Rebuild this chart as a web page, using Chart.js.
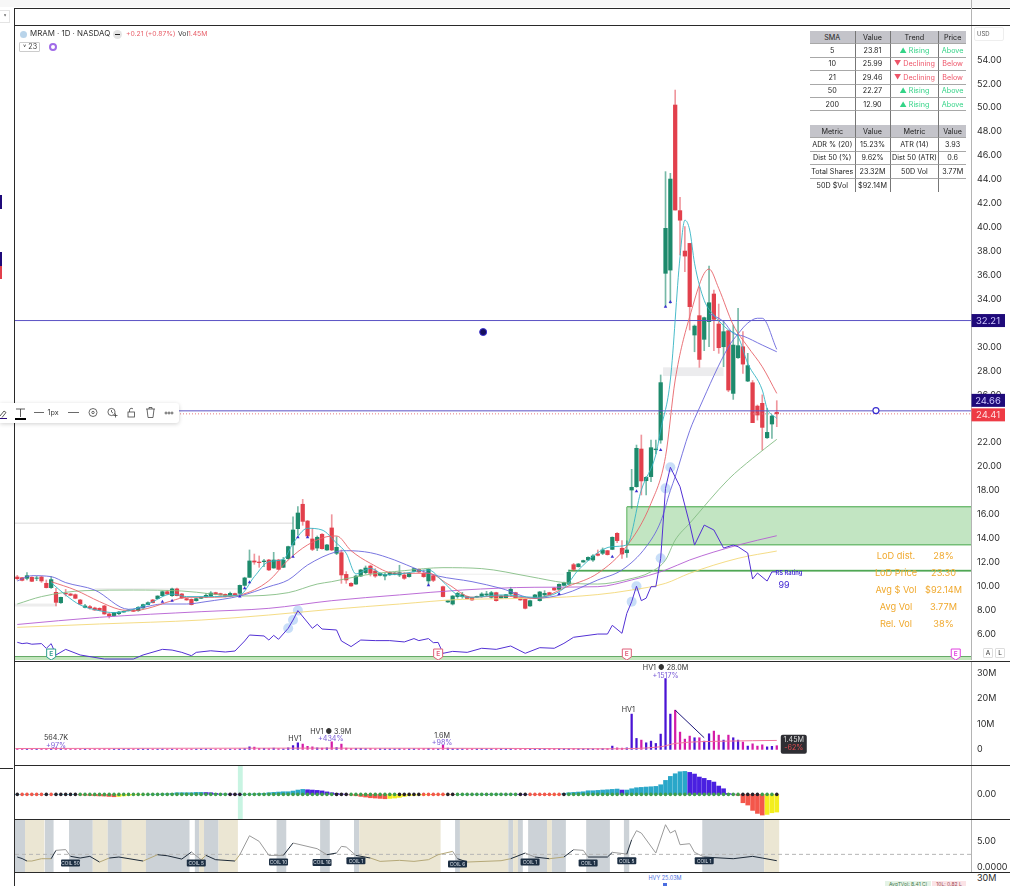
<!DOCTYPE html>
<html>
<head>
<meta charset="utf-8">
<title>MRAM 1D</title>
<script src="https://cdn.jsdelivr.net/npm/chart.js@4"></script>
<style>
  html, body { margin: 0; padding: 0; background: #fff; }
  body { width: 1010px; height: 886px; position: relative; overflow: hidden; font-family: Inter, "Liberation Sans", sans-serif; color: #222; }
  canvas { position: absolute; left: 15px; }
  .txt { position: absolute; white-space: nowrap; line-height: 1; }
  .cell { position: absolute; display: flex; align-items: center; justify-content: center; font-size: 7.2px; box-sizing: border-box; white-space: nowrap; }
</style>
</head>
<body>
<canvas id="priceChart" width="995" height="635" style="top:25px"></canvas>
<canvas id="volChart" width="995" height="104" style="top:661px"></canvas>
<canvas id="oscChart" width="995" height="53" style="top:766px"></canvas>
<canvas id="atrChart" width="995" height="53" style="top:819px"></canvas>
<div id="overlay"></div>

<script>
// ---- candles, bar 0 is the oldest, bar 87 has no visible candle
var opens = [10.77,10.71,10.66,10.74,10.66,10.77,10.24,9.88,9.49,8.62,
  9.4,9.35,9.29,8.85,8.23,8.29,8.18,8.15,8.35,7.68,
  7.54,7.7,7.84,7.95,8.01,7.95,8.18,8.46,8.85,8.96,
  9.21,9.54,9.21,9.77,9.35,8.96,8.9,8.79,8.99,9.1,
  9.18,9.46,9.38,9.32,9.18,9.38,9.4,10.07,10.74,12.11,
  12.02,12.05,12.19,11.52,12.19,11.58,12.3,13.45,14.81,16.85,
  15.45,13.95,13.19,14.34,13.03,14.87,12.75,12.8,10.99,10.24,
  10.18,10.85,11.13,11.69,11.27,10.91,10.85,10.97,10.99,10.94,
  10.94,10.8,11.24,11.41,11.08,10.44,10.88,null,9.96,8.68,
  8.51,9.13,9.13,9.13,9.07,9.1,9.13,9.27,9.07,9.46,
  9.01,9.04,9.35,9.46,8.96,8.9,8.35,8.99,8.79,9.27,
  9.46,9.85,9.74,10.07,10.18,11.8,11.63,12.02,12.19,12.19,
  12.69,12.75,12.97,13.08,14.42,13.17,12.8,18.04,18.32,21.47,
  18.82,19.16,21.41,22.22,36.16,36.43,50.23,41.4,38.02,38.66,
  31.0,32.62,30.64,32.12,34.43,31.92,30.02,31.36,26.12,29.1,
  30.02,27.15,27.01,25.06,25.29,22.41,23.56,24.53];
var closes = [10.63,10.49,10.88,10.41,10.69,10.44,9.88,10.55,8.65,9.07,
  9.35,9.24,8.99,8.51,8.35,8.18,8.01,7.98,7.68,7.51,
  7.79,7.84,7.9,8.01,7.9,8.23,8.46,8.62,8.62,9.18,
  9.54,9.35,9.77,9.21,9.01,8.85,8.46,8.96,9.07,9.24,
  9.43,9.32,9.27,9.15,9.4,9.29,10.07,10.69,12.11,12.02,
  11.97,12.11,11.36,12.19,11.41,12.19,13.31,14.7,16.12,15.42,
  14.2,13.08,14.09,13.14,13.45,13.03,13.25,10.94,10.52,10.02,
  10.85,11.36,11.52,11.08,10.85,11.08,10.97,11.13,11.1,11.13,
  10.66,11.08,11.47,11.19,10.8,11.41,10.49,null,9.13,8.79,
  9.18,9.4,9.29,8.96,8.85,9.15,9.35,9.35,9.46,8.79,
  9.18,9.29,9.74,9.01,8.85,8.15,8.79,9.27,9.52,9.4,
  9.29,9.68,10.16,10.3,11.16,11.41,11.86,12.14,12.41,12.53,
  12.58,13.03,12.64,14.09,13.81,12.69,13.03,18.27,21.53,18.8,
  19.1,21.58,21.47,27.02,39.92,44.04,41.45,40.6,37.6,33.37,
  31.75,28.96,32.45,33.7,32.31,29.94,31.28,26.4,30.16,30.11,
  28.57,28.44,23.67,24.31,23.28,22.86,24.23,24.41];
var highs = [10.91,10.75,11.13,10.8,10.85,10.85,10.52,10.8,9.82,9.1,
  9.74,9.4,9.35,8.9,8.48,8.4,8.25,8.2,8.4,7.73,
  7.82,7.9,7.93,8.03,8.05,8.3,8.5,8.7,8.9,9.2,
  9.6,9.66,9.85,9.85,9.4,9,8.95,9,9.1,9.4,
  9.55,9.5,9.42,9.36,9.5,9.42,10.1,10.75,13.03,12.69,
  12.53,12.25,12.25,12.83,12.25,12.41,13.35,15.81,16.65,17.26,
  15.5,14.84,14.2,14.4,13.5,15.98,14.14,13.03,11.22,10.3,
  10.9,11.4,11.69,11.77,11.47,11.12,11.08,11.2,11.15,11.75,
  11.13,11.1,11.5,11.45,11.36,11.47,10.99,null,10,8.82,
  9.22,9.49,9.49,9.17,9.1,9.18,9.46,9.57,9.57,9.5,
  9.22,9.33,9.91,9.5,9,8.95,8.83,9.32,9.56,9.63,
  9.5,9.9,10.2,10.35,11.36,11.91,11.9,12.18,12.45,12.64,
  13.03,13.2,13,14.12,14.48,13.81,13.8,19.77,21.8,22.64,
  19.16,22.22,22.22,27.66,44.66,44.52,51.48,42.51,40.06,38.66,
  31.84,35,32.5,36.77,34.76,33.59,32.2,31.4,31.84,33.23,
  31.28,29.47,27.2,25.15,26,24.87,24.3,25.51];
var lows = [10.52,10.45,10.52,10.38,10.46,10.32,9.85,9.82,8.35,8.55,
  9.18,9.2,8.95,8.45,8.18,8.07,7.98,7.95,7.65,7.34,
  7.5,7.62,7.82,7.93,7.87,7.9,8.15,8.43,8.6,8.94,
  9.18,9.3,9.15,9.18,8.98,8.82,8.43,8.75,8.95,9.07,
  9.13,9.28,9.24,9.1,9.13,9.25,9.35,10,10.74,11.83,
  11.58,11.63,11.3,11.5,11.38,11.55,12.25,12.61,14.28,15.09,
  14.15,12.97,12.97,13.1,13,12.97,12.64,10.24,10.24,9.98,
  10.15,10.8,11.02,10.85,10.74,10.85,10.52,10.9,10.95,10.8,
  10.57,10.75,11.2,11.15,10.74,10.1,10.38,null,9.1,8.65,
  8.43,8.99,8.99,8.93,8.82,9.07,9.07,9.13,8.99,8.75,
  8.98,9,9.27,8.98,8.82,8.1,8.3,8.95,8.75,9.13,
  9.25,9.65,9.7,10.03,10.1,11.3,11.6,12,12.15,12.08,
  12.53,12.64,12.6,13.05,13.64,12.33,12.41,16.51,18.27,17.63,
  17.63,18.74,21.05,21.95,33.37,33.65,41.45,37.69,36.3,31.42,
  29.6,28.3,29.69,30.02,29.69,29.47,28.35,26.26,25.62,29.05,
  27.79,27.1,23.67,23.89,21.38,22.36,22.36,23.34];

// ---- moving averages and RS line, read as [bar, value]
var sma5 = [[7,10.3],[10,9.26],[13,8.43],[17,7.95],[20,7.79],[23,7.95],[27,8.51],[32,9.35],[35,9.13],[39,9.13],[46,9.27],[49,10.8],[52,12.05],[55,12.25],[57,13.58],[60,14.84],[63,14.7],[66,13.6],[68,12.75],[70,11.02],[73,11.49],[76,10.94],[80,11.08],[85,11.36],[88,10.38],[91,9.27],[94,9.07],[100,9.27],[107,9.07],[113,9.82],[116,11.36],[123,13.31],[126,13.45],[129,18.04],[132,21],[133,23.06],[135,27.24],[137,37.55],[138,40.6],[139,39.78],[140,37],[142,33.9],[144,32.67],[147,31.42],[149,30.86],[151,28.63],[154,26.4],[155,24.87],[157,24.03]];
var sma10 = [[7,10.38],[12,9.68],[17,8.71],[21,8.07],[24,7.95],[27,8.15],[32,8.79],[35,9.07],[39,9.07],[46,9.27],[52,10.46],[56,12.19],[60,13.45],[64,14.14],[66,14.2],[69,12.97],[73,11.91],[78,11.08],[85,11.08],[89,10.18],[94,9.07],[100,9.18],[107,8.99],[114,10.02],[120,11.08],[126,13.36],[131,16.93],[134,20.83],[136,27.24],[139,32.53],[143,36.52],[145,34.9],[148,31.84],[151,30.02],[154,28.35],[157,26.12]];
var sma21 = [[0,10.44],[3,10.88],[7,10.8],[10,10.3],[16,9.68],[23,8.07],[26,8.23],[30,8.51],[35,8.51],[39,8.71],[46,9.18],[52,9.96],[56,10.52],[60,11.77],[66,12.89],[68,12.97],[73,12.8],[78,12.19],[83,11.36],[87,10.85],[94,10.38],[100,9.82],[107,8.99],[113,9.35],[120,10.52],[125,11.36],[130,13.3],[133,15.4],[135,18],[136,19.15],[139,23],[141,24.9],[147,30],[149,31.1],[151,32],[153,32.4],[154,32.4],[157,29.8]];
var upperBand = [[143,32.81],[146,32.12],[148,31.14],[150,30.92],[154,30.16],[157,29.6]];
var sma50 = [[0,8.51],[5,9.13],[14,9.63],[24,9.68],[34,9.6],[46,9.18],[56,9.46],[62,10.18],[65,10.38],[72,10.94],[80,11.3],[88,11.55],[96,11.47],[106,10.8],[113,10.3],[120,10.18],[126,10.55],[131,11.2],[134,12.19],[136,13.86],[139,15.26],[147,18.93],[152,20.69],[157,22.28]];
var sma150 = [[0,6.8],[17,7.4],[38,7.87],[52,8.15],[65,8.79],[79,9.27],[92,9.68],[107,9.91],[120,9.96],[127,10.52],[134,11.35],[139,12.19],[149,13.44],[157,14.22]];
var sma200 = [[0,6.56],[17,6.84],[38,7.17],[52,7.59],[65,8.07],[79,8.51],[92,8.9],[107,8.99],[120,9.3],[127,9.68],[134,10.24],[139,11.08],[149,12.33],[157,12.94]];
var rsLine = [[0,5.31],[1,5.2],[2,5.25],[3,5.15],[5,5.2],[6,4.8],[7,5.2],[8,4.25],[10,4.72],[13,4.25],[18,3.91],[24,3.91],[26,4.25],[30,4.72],[32,4.66],[34,4.47],[36,4.19],[37,4.47],[40,4.6],[43,4.5],[45,4.58],[47,5.42],[48,5.92],[51,5.84],[52,5.5],[53,5.89],[54,5.56],[56,6.48],[57,7.17],[58,7.96],[61,6.48],[62,6.81],[63,6.42],[66,6.34],[67,5.42],[69,4.95],[71,5.5],[74,5.45],[77,5.45],[80,5.34],[82,5.62],[83,5.45],[85,5.62],[86,5.28],[87,5.3],[88,4.39],[90,4.55],[93,4.47],[96,4.81],[99,4.72],[102,5.0],[105,4.39],[108,4.86],[111,4.81],[113,5.22],[115,5.73],[120,6.0],[122,6.0],[123,6.73],[125,6.06],[126,7.73],[127,8.7],[128,10],[129,8.79],[130,9],[131,9.96],[132,9.96],[133,12.33],[134,18.18],[135,19.94],[137,18.32],[139,15.2],[140,13.44],[142,15.11],[144,14.7],[146,13.19],[148,13.44],[149,13.3],[151,12.77],[152,10.6],[153,11.1],[155,10.43],[156,11.2],[157,11.2]];
var rsHighlights = [[56,6.48],[57,7.17],[58,7.96],[127,8.7],[128,10],[133,12.33],[134,18.18],[135,19.94]];
var upArrows = [[30,8.71],[32,8.79],[46,9.13],[47,9.82],[48,10.32],[57,12.47],[58,14.09],[60,14.09],[85,10.07],[112,9.35],[123,12.47],[128,17.93],[133,21.38],[134,33.37],[135,33.76]];

// ---- price axis and drawn levels
var priceTicks = [54,52,50,48,46,44,42,40,38,36,34,32,30,28,26,24,22,20,18,16,14,12,10,8,6];
var earningsBars = [7,87,126,194];
var earningsColors = ['#2f9e8f','#e0607a','#e0607a','#e040e0'];

// ---- volume in millions
var volumes = [.1,.1,.12,.1,.1,.12,.15,.3,.56,.3,
  .15,.12,.1,.12,.1,.1,.12,.1,.15,.1,
  .12,.1,.1,.1,.12,.1,.15,.12,.1,.1,
  .15,.12,.1,.12,.1,.1,.12,.1,.1,.15,
  .1,.12,.1,.12,.1,.15,.2,.3,1,.9,
  .4,.4,.3,.5,.3,.2,.6,1.5,2.6,2.1,
  1.2,1,.6,.5,.6,3,.7,2.1,.5,.3,
  .4,.4,.3,.35,.2,.25,.2,.2,.2,.25,
  .2,.2,.25,.25,.3,.4,.3,.2,1.6,.5,
  .3,.25,.2,.2,.2,.2,.25,.2,.2,.25,
  .2,.2,.3,.25,.3,.4,.25,.2,.25,.3,
  .35,.3,.3,.25,.25,.3,.25,.2,.25,.2,
  .25,.3,.3,1.3,.6,.5,.6,13.95,4.33,3.67,
  2.6,3.27,2.35,6.04,28,13.95,15.5,6.83,4.06,5.25,
  4.6,4.6,3.27,6.17,7.23,5.64,3.67,5.64,4.6,3.67,
  2.9,1.3,2.2,1.3,1.8,1,1.2,1.45];
var volAvg = [[-0.4,0.35],[60,0.5],[100,0.4],[122,0.24],[133,1.03],[136,2.35],[147,3.27],[157,3.54]];
var volTrend = [[136,15.5],[142,4.6]];
var volTicks = [0,10,20,30];
var volLabels = ['564.7K','+97%','HV1','HV1 \u25CF 3.9M','+434%','1.6M','+98%','HV1','HV1 \u25CF 28.0M','+1517%'];
var volLabelBars = [8,8,57.4,64.8,64.8,87.8,87.8,126.3,134,134];
var volLabelVals = [4.5,1.5,4.1,7.1,4.1,5.3,2.5,15.6,32.2,29.2];

// ---- momentum histogram
var momentum = [.02,.02,.02,.02,.02,.02,.02,.02,.02,.02,
  .02,.02,.02,-.1,-.15,-.2,-.27,-.3,-.33,-.4,
  -.47,-.4,-.3,-.2,-.1,-.05,-.02,.02,.05,.05,
  .1,.13,.2,.33,.33,.33,.33,.4,.4,.37,
  .33,.2,.1,.1,.07,.05,.03,.03,.07,.1,
  .17,.2,.33,.4,.47,.53,.53,.67,.87,1,
  .93,.87,.8,.7,.5,.33,.2,.1,.03,-.13,
  -.27,-.4,-.53,-.67,-.73,-.8,-.87,-.8,-.73,-.6,
  -.4,-.27,-.2,-.13,-.1,-.07,-.07,-.05,-.05,-.03,
  -.03,.02,.03,.05,.03,.05,.05,.03,.05,.07,
  .07,.05,.07,.05,.03,.02,.02,-.02,-.02,-.03,
  -.03,-.02,-.02,.2,.33,.4,.47,.53,.73,.73,
  .8,.87,.93,1,1.07,.87,.87,1.13,1.33,1.4,
  1.47,1.53,1.6,1.93,2.8,3.6,4.13,4.53,4.6,4.4,
  4.07,3.47,3.2,2.8,2.47,1.67,1.13,.2,.07,-.2,
  -1.67,-2.13,-3.2,-3.8,-4.13,-4,-3.67,-3.53];
var dotRunKinds = ['k','r','k','r','k','g','k','g','k','g','k','r','k','g','k','r','k','g','k','g','k'];
var dotRunSizes = [1,5,1,1,5,31,3,19,3,10,5,5,2,13,2,7,1,36,4,3,1];
var oscTicks = [0];

// ---- range line pane
var atrLine = [[0,1.95],[1,1.65],[2,1.17],[3,1.17],[5,1.62],[7,1.62],[8,3.25],[10,3.4],[11,2.08],[13,1.75],[15,2.08],[17,.97],[19,1.75],[21,1.95],[26,1.17],[29,2.4],[31,2.2],[34,1.55],[36,2.92],[38,1.43],[39,2.27],[41,1.43],[45,1.17],[46,2.4],[48,6.1],[50,5],[52,2.27],[55,2.27],[57,4.68],[62,3.57],[64,2.4],[66,2.73],[67,4.03],[68,3.9],[70,2.27],[73,1.75],[75,1.1],[79,1.3],[82,1.1],[85,1.43],[87,2.4],[90,3.05],[91,1.62],[93,.97],[100,1.23],[102,1.62],[105,2.73],[107,1.95],[110,1.62],[113,1.95],[115,3.38],[117,3.25],[118,1.95],[122,1.95],[123,2.86],[126,2.53],[127,5.32],[128,7.08],[129,6.62],[132,2.73],[134,8.25],[135,6.62],[136,7.14],[137,4.35],[139,4.55],[140,2.86],[142,1.95],[148,1.62],[152,2.08],[154,1.75],[157,1.23]];
var zoneFrom = [-.5,1.6,5.7,10.7,15.6,18.7,21.6,26.6,36.7,37.6,38.6,41.6,53.6,62.6,69.6,70.7,90.5,91.5,101.5,102.5,103.5,105.6,109.5,110.5,117.6,125.4,141.6,154.4];
var zoneTo = [1.6,5.6,7.5,15.6,18.7,21.6,26.6,35.6,37.6,38.6,41.6,45.6,55.6,64.6,70.7,87.5,91.5,101.5,102.5,103.5,104.5,109.5,110.5,113.4,122.5,126.5,154.4,157.5];
var zoneKind = ['g','b','g','g','b','g','b','g','g','b','g','b','g','g','g','b','g','b','g','b','g','g','b','g','g','g','g','b'];
var atrTicks = [5,0];
var coilLabels = ['COIL 50','COIL 5','COIL 10','COIL 16','COIL 1','COIL 6','COIL 1','COIL 1','COIL 5','COIL 1'];
var coilBars = [11,37,54,63,70,91,106,118,126,142];
var coilVals = [.78,.78,1,.9,1.2,.6,1,.8,1.2,1.2];

// ---- tables
var smaHeader = ['SMA','Value','Trend','Price'];
var smaPeriods = ['5','10','21','50','200'];
var smaValues = ['23.81','25.99','29.46','22.27','12.90'];
var smaTrends = ['\u25B2 Rising','\u25BC Declining','\u25BC Declining','\u25B2 Rising','\u25B2 Rising'];
var smaPrices = ['Above','Below','Below','Above','Above'];
var metricHeader = ['Metric','Value','Metric','Value'];
var metricRows = [['ADR % (20)','15.23%','ATR (14)','3.93'],['Dist 50 (%)','9.62%','Dist 50 (ATR)','0.6'],['Total Shares','23.32M','50D Vol','3.77M'],['50D $Vol','$92.14M','','']];
var lodLabels = ['LoD dist.','LoD Price','Avg $ Vol','Avg Vol','Rel. Vol'];
var lodValues = ['28%','23.30','$92.14M','3.77M','38%'];

var GREEN = '#1d8a6c', RED = '#e2404c', BLUE = '#4a14d4', MAGENTA = '#d41ca8';
var xMin = -0.475, xMax = 197.15;
var axisFont = { family: 'Inter', size: 9 };

function pts(list) {
  return list.map(function(p) { return { x: p[0], y: p[1] }; });
}

var bodyData = [], wickData = [], bodyColors = [], wickColors = [];
for (var i = 0; i < opens.length; i++) {
  if (opens[i] === null) continue;
  var up = closes[i] >= opens[i];
  bodyData.push({ x: i, y: [opens[i], closes[i]] });
  wickData.push({ x: i, y: [lows[i], highs[i]] });
  bodyColors.push(up ? GREEN : RED);
  wickColors.push(up ? 'rgba(29,138,108,.6)' : 'rgba(226,64,76,.55)');
}

function maLine(list, color) {
  return { type: 'line', data: pts(list), borderColor: color, borderWidth: 0.9, pointRadius: 0, cubicInterpolationMode: 'monotone', order: 1 };
}
function level(v, color, dash) {
  return { type: 'line', data: [{ x: xMin, y: v }, { x: xMax, y: v }], borderColor: color, borderWidth: 1, borderDash: dash || [], pointRadius: 0, order: 3 };
}

function rightAxis(min, max, ticks, fmt) {
  return {
    position: 'right', min: min, max: max, grid: { display: false, drawTicks: false },
    border: { display: true, color: '#b4b4b4', width: 1 },
    ticks: { padding: 6, color: '#2b2b2b', font: axisFont, autoSkip: false, maxRotation: 0, callback: fmt },
    afterBuildTicks: function(a) { a.ticks = ticks.map(function(v) { return { value: v }; }); },
    afterFit: function(s) { s.width = 39; s.paddingTop = 0; s.paddingBottom = 0; }
  };
}
function xAxis() {
  return { type: 'linear', min: xMin, max: xMax, offset: false, display: false, grid: { display: false } };
}
function baseOptions(yAxis) {
  return {
    responsive: false, animation: false, events: [],
    layout: { padding: 0, autoPadding: false },
    plugins: { legend: { display: false }, tooltip: { enabled: false } },
    scales: { x: xAxis(), y: yAxis }
  };
}

function band(chart, x0, x1, v0, v1, color) {
  var sx = chart.scales.x, sy = chart.scales.y, c = chart.ctx;
  var px0 = sx.getPixelForValue(x0), px1 = sx.getPixelForValue(x1);
  var py0 = sy.getPixelForValue(v0), py1 = sy.getPixelForValue(v1);
  c.fillStyle = color;
  c.fillRect(px0, py1, px1 - px0, py0 - py1);
}

var priceBackdrop = {
  id: 'priceBackdrop',
  beforeDatasetsDraw: function(chart) {
    var c = chart.ctx, sx = chart.scales.x, sy = chart.scales.y;
    // demand box
    band(chart, 126, xMax, 13.44, 16.62, '#c2e5c2');
    c.fillStyle = '#6fbb72';
    var bx = sx.getPixelForValue(126), bt = sy.getPixelForValue(16.62), bb = sy.getPixelForValue(13.44), br = sx.right;
    c.fillRect(bx, bt - 1, br - bx, 1.4);
    c.fillRect(bx, bb - 1, br - bx, 1.4);
    c.fillRect(bx - 0.6, bt, 1.2, bb - bt);
    // pale consolidation areas
    band(chart, 133.5, 146, 27.57, 28.3, '#ececee');
    band(chart, -0.47, 8.2, 8.3, 8.55, '#ededed');
    band(chart, -0.47, 57, 15.22, 15.32, '#dedede');
    band(chart, 16, 47, 9.72, 9.84, '#ececec');
    band(chart, 84, 113, 10.95, 11.05, '#f0f0f0');
    // support line and bottom strip
    band(chart, 114, xMax, 11.22, 11.37, '#4fa754');
    band(chart, xMin, xMax, 3.83, 4.12, '#c3e6bd');
    band(chart, xMin, xMax, 4.08, 4.16, '#5fa863');
  },
  afterDraw: function(chart) {
    var c = chart.ctx, sy = chart.scales.y, sx = chart.scales.x;
    // earnings flags
    c.textAlign = 'center'; c.textBaseline = 'middle';
    earningsBars.forEach(function(b, n) {
      var px = sx.getPixelForValue(b), py = sy.getPixelForValue(4.33);
      c.fillStyle = '#fff'; c.strokeStyle = earningsColors[n]; c.lineWidth = 1;
      c.beginPath();
      c.moveTo(px - 4.5, py - 5); c.lineTo(px + 4.5, py - 5); c.lineTo(px + 4.5, py + 3); c.lineTo(px, py + 6); c.lineTo(px - 4.5, py + 3); c.closePath();
      c.fill(); c.stroke();
      c.fillStyle = earningsColors[n]; c.font = '600 6.5px Inter';
      c.fillText('E', px, py);
    });
    // price tags on the axis
    tag(c, sy.getPixelForValue(32.21), '32.21', '#1f0a7a', '#cfc8ff');
    tag(c, sy.getPixelForValue(24.66) - 10.5, '24.66', '#1f0a7a', '#cfc8ff');
    tag(c, sy.getPixelForValue(24.41) + 1, '24.41', '#ee3b45', '#ffdfe0');
  }
};
function tag(c, y, text, bg, fg) {
  c.fillStyle = bg; c.fillRect(956.5, y - 6.5, 33.5, 13);
  c.fillStyle = fg; c.font = '9.5px Inter'; c.textAlign = 'center'; c.textBaseline = 'middle';
  c.fillText(text, 973, y + 0.5);
}

new Chart(document.getElementById('priceChart'), {
  type: 'bar',
  data: { datasets: [
    { label: 'wicks', data: wickData, backgroundColor: wickColors, barThickness: 1, grouped: false, order: 6 },
    { label: 'bodies', data: bodyData, backgroundColor: bodyColors, barThickness: 3.6, grouped: false, order: 5 },
    level(32.21, '#5a52c4'),
    level(24.66, '#5a52c4'),
    level(24.41, '#e57a80', [1, 2]),
    maLine(sma5, '#35b4c4'),
    maLine(sma10, '#e8646a'),
    maLine(sma21, '#6a66dc'),
    maLine(upperBand, '#6a66dc'),
    maLine(sma50, '#84bd84'),
    maLine(sma150, '#b45ed2'),
    maLine(sma200, '#f3d878'),
    { type: 'line', data: pts(rsHighlights), showLine: false, pointRadius: 5, pointBackgroundColor: 'rgba(170,205,245,.65)', pointBorderWidth: 0, order: 2 },
    { type: 'line', data: pts(rsLine), borderColor: '#5230d4', borderWidth: 1, pointRadius: 0, order: 0 },
    { type: 'line', data: pts(upArrows), showLine: false, pointStyle: 'triangle', pointRadius: 2, pointBackgroundColor: '#3a2fd0', pointBorderWidth: 0, order: 0 },
    { type: 'line', data: [{ x: 96.3, y: 31.25 }], showLine: false, pointRadius: 3.5, pointBackgroundColor: '#17105e', pointBorderColor: '#3a2fd0', pointBorderWidth: 1, order: 0 },
    { type: 'line', data: [{ x: 177.5, y: 24.68 }], showLine: false, pointRadius: 3, pointBackgroundColor: '#fff', pointBorderColor: '#3a2fd0', pointBorderWidth: 1.2, order: 0 }
  ] },
  options: baseOptions(rightAxis(3.83, 56.92, priceTicks, function(v) { return v.toFixed(2); })),
  plugins: [priceBackdrop]
});

var volPlugin = {
  id: 'volPlugin',
  afterDraw: function(chart) {
    var c = chart.ctx, sx = chart.scales.x, sy = chart.scales.y;
    c.textAlign = 'center'; c.textBaseline = 'middle'; c.font = '7.2px Inter';
    volLabels.forEach(function(t, n) {
      c.fillStyle = t.charAt(0) === '+' ? '#7a5cd6' : '#333';
      c.fillText(t, sx.getPixelForValue(volLabelBars[n]), sy.getPixelForValue(volLabelVals[n]));
    });
    // last value flag
    var fx = sx.getPixelForValue(157) + 4, fy = sy.getPixelForValue(1.45);
    c.fillStyle = '#2e2e33';
    c.beginPath(); c.roundRect(fx, fy - 11, 26, 19, 2); c.fill();
    c.fillStyle = '#ddd'; c.fillText('1.45M', fx + 13, fy - 5.5);
    c.fillStyle = '#e04c50'; c.fillText('-62%', fx + 13, fy + 2.5);
  }
};
new Chart(document.getElementById('volChart'), {
  type: 'bar',
  data: { datasets: [
    { data: volumes.map(function(v, n) { return { x: n, y: v }; }),
      backgroundColor: volumes.map(function(v, n) { return closes[n] !== null && closes[n] < opens[n] ? MAGENTA : BLUE; }),
      barThickness: 1.6, order: 2 },
    { type: 'line', data: pts(volAvg), borderColor: '#f0749c', borderWidth: 1, pointRadius: 0, cubicInterpolationMode: 'monotone', order: 1 },
    { type: 'line', data: pts(volTrend), borderColor: '#1a1478', borderWidth: 1, pointRadius: 0, order: 0 }
  ] },
  options: baseOptions(rightAxis(-6.17, 34.94, volTicks, function(v) { return v === 0 ? '0' : v + 'M'; })),
  plugins: [volPlugin]
});

var dotKinds = [];
dotRunKinds.forEach(function(k, n) {
  for (var j = 0; j < dotRunSizes[n]; j++) dotKinds.push(k);
});
var dotPalette = { g: '#3f9e4b', r: '#f0584a', k: '#26222a' };
function momentumColor(n) {
  var v = momentum[n], prev = n > 0 ? momentum[n - 1] : v;
  if (v >= 0) return v >= prev ? '#2aa7c9' : '#4a20e0';
  return v <= prev ? '#f4564a' : '#f3ee1e';
}
var oscBackdrop = {
  id: 'oscBackdrop',
  beforeDatasetsDraw: function(chart) {
    band(chart, 45.6, 46.6, -4.92, 5.68, '#c8f4e2');
  }
};
new Chart(document.getElementById('oscChart'), {
  type: 'bar',
  data: { datasets: [
    { data: momentum.map(function(v, n) { return { x: n, y: v }; }),
      backgroundColor: momentum.map(function(v, n) { return momentumColor(n); }),
      barThickness: 4, order: 2 },
    { type: 'line', data: dotKinds.map(function(k, n) { return { x: n, y: 0 }; }), showLine: false,
      pointRadius: 1.8, pointBorderWidth: 0,
      pointBackgroundColor: dotKinds.map(function(k) { return dotPalette[k]; }), order: 1 }
  ] },
  options: baseOptions(rightAxis(-4.92, 5.68, oscTicks, function(v) { return v.toFixed(2); })),
  plugins: [oscBackdrop]
});

var zoneFill = { g: '#ccd2d7', b: '#ebe6d3' };
var zoneLine = { g: '#1d2a38', b: '#b5a878' };
function atrColor(x) {
  for (var z = 0; z < zoneFrom.length; z++) {
    if (x >= zoneFrom[z] && x < zoneTo[z]) return zoneLine[zoneKind[z]];
  }
  return '#9a9a9a';
}
var atrPlugin = {
  id: 'atrPlugin',
  beforeDatasetsDraw: function(chart) {
    zoneFrom.forEach(function(f, z) {
      band(chart, f, zoneTo[z], -0.97, 9.36, zoneFill[zoneKind[z]]);
    });
  },
  afterDraw: function(chart) {
    var c = chart.ctx, sx = chart.scales.x, sy = chart.scales.y;
    c.font = '4.8px Inter'; c.textAlign = 'center'; c.textBaseline = 'middle';
    coilLabels.forEach(function(t, n) {
      var px = sx.getPixelForValue(coilBars[n]), py = sy.getPixelForValue(coilVals[n]);
      c.fillStyle = '#1c2e42';
      c.beginPath(); c.roundRect(px - 9.5, py - 3.5, 19, 7, 1); c.fill();
      c.fillStyle = '#dfe6ee';
      c.fillText(t, px, py + 0.3);
    });
  }
};
new Chart(document.getElementById('atrChart'), {
  type: 'line',
  data: { datasets: [
    { data: [{ x: xMin, y: 2.47 }, { x: xMax, y: 2.47 }], borderColor: '#b5b5b5', borderWidth: 1, borderDash: [4, 3], pointRadius: 0, order: 2 },
    { data: pts(atrLine), borderWidth: 1, pointRadius: 0, order: 1,
      segment: { borderColor: function(ctx) { return atrColor(ctx.p0.parsed.x); } } }
  ] },
  options: baseOptions(rightAxis(-0.97, 9.36, atrTicks, function(v) { return v === 0 ? '0.0000' : v.toFixed(2); })),
  plugins: [atrPlugin]
});

// ---- page furniture: frame, legend, tables, toolbar
var overlay = document.getElementById('overlay');
function box(left, top, w, h, bg, extra) {
  var d = document.createElement('div');
  d.style.cssText = 'position:absolute;left:' + left + 'px;top:' + top + 'px;width:' + w + 'px;height:' + h + 'px;background:' + bg + ';' + (extra || '');
  overlay.appendChild(d);
  return d;
}
function text(t, left, top, size, color, extra) {
  var d = document.createElement('div');
  d.className = 'txt';
  d.textContent = t;
  d.style.cssText = 'left:' + left + 'px;top:' + top + 'px;font-size:' + size + 'px;color:' + color + ';' + (extra || '');
  overlay.appendChild(d);
  return d;
}
function centered(t, cx, cy, size, color, extra) {
  return text(t, cx, cy, size, color, 'transform:translate(-50%,-50%);' + (extra || ''));
}

box(0, 0, 1010, 7, '#f7f7f7');
[[14, 8, 996], [14, 25, 996], [14, 661, 996], [14, 765, 996], [14, 818.5, 996], [14, 872, 996]].forEach(function(r) {
  box(r[0], r[1], r[2], 1.3, '#2a2a2a');
});
box(0, 768, 13, 1, '#2a2a2a');
box(14, 8, 1.3, 878, '#2a2a2a');
box(971, 0, 1, 25, '#b4b4b4');
box(0, 10, 10, 13, '#fff', 'border:1px solid #e4e4e4;border-left:0;box-sizing:border-box;');
centered('\u02C5', 5, 16, 6, '#333');
box(0, 195, 2, 14, '#1f0a7a');
box(0, 252, 2, 14, '#1f0a7a');
box(0, 266, 2, 13, '#e2404c');

// legend
box(20, 31, 7, 7, '#b9d4ea', 'border-radius:50%;');
text('MRAM \u00B7 1D \u00B7 NASDAQ', 30, 30, 7.9, '#333');
box(113, 30, 9, 9, '#e4e4e4', 'border-radius:50%;');
box(115, 34, 5, 1.4, '#222');
text('+0.21 (+0.87%)', 126, 31, 6.8, '#e8606a');
text('Vol', 178, 31, 6.8, '#333');
text('1.45M', 188, 31, 6.8, '#e8606a');
box(19, 42, 21, 10, '#fff', 'border:1px solid #ccc;box-sizing:border-box;border-radius:1px;');
text('\u02C5 23', 23, 43, 7.2, '#444');
box(49, 43, 8, 8, 'transparent', 'border:2px solid #a06be8;border-radius:50%;box-sizing:border-box;');

// axis bits
box(974, 27, 30, 14, '#fff', 'border:1px solid #eee;box-sizing:border-box;border-radius:2px;');
text('USD', 977, 31, 6, '#555');
box(983, 648, 10, 10, '#fff', 'border:1px solid #ddd;box-sizing:border-box;border-radius:1px;');
centered('A', 988, 653, 6.5, '#333');
box(995, 648, 10, 10, '#fff', 'border:1px solid #ddd;box-sizing:border-box;border-radius:1px;');
centered('L', 1000, 653, 6.5, '#333');

// SMA table and metric table
var colX = [810, 855.5, 890.5, 939.3];
var colW = [45.5, 35, 48.8, 26.7];
function tableRow(cells, top, h, opts) {
  opts = opts || {};
  cells.forEach(function(t, n) {
    var d = document.createElement('div');
    d.className = 'cell';
    d.textContent = t;
    var col = opts.colors ? opts.colors[n] : '#222';
    d.style.cssText = 'left:' + colX[n] + 'px;top:' + top + 'px;width:' + colW[n] + 'px;height:' + h + 'px;color:' + col + ';' +
      (opts.bg ? 'background:' + opts.bg + ';' : 'background:#fff;') +
      (opts.noline ? '' : 'border-bottom:1px solid #a8a8a8;') +
      (n < 3 ? 'border-right:1px solid #777;' : '');
    overlay.appendChild(d);
  });
}
var ROW = 13.4;
tableRow(smaHeader, 31, ROW, { bg: '#c4c4ca' });
smaPeriods.forEach(function(p, r) {
  var ok = smaPrices[r] === 'Above';
  var tone = ok ? '#33d487' : '#ee5468';
  tableRow([p, smaValues[r], smaTrends[r], smaPrices[r]], 44.4 + r * ROW, ROW, { colors: ['#222', '#222', tone, tone] });
});
tableRow(['', '', '', ''], 111.4, ROW, { noline: true });
tableRow(metricHeader, 125, ROW, { bg: '#c4c4ca' });
metricRows.forEach(function(row, r) {
  tableRow(row, 138.4 + r * ROW, ROW, r === 3 ? { noline: true } : {});
});

// orange stats and RS label
lodLabels.forEach(function(l, r) {
  centered(l, 896, 555.7 + r * 17, 9.2, '#f0a92e');
  centered(lodValues[r], 943.5, 555.7 + r * 17, 9.2, '#f0a92e');
});
centered('RS Rating', 789, 572.7, 5.8, '#3a1fd0', 'font-weight:600;');
centered('99', 784, 583.5, 9, '#3a1fd0');

// bottom strip
centered('HVY 25.03M', 665, 878.5, 5.5, '#4a6de0');
box(663, 883, 4, 3, '#4a6de0');
text('30M', 977, 872.5, 9, '#2b2b2b');
box(885, 881, 46, 5, '#e4f3e6');
centered('AvgTVol: 8.41 Cl', 908, 883.5, 5, '#4a7a52');
box(932, 881, 34, 5, '#fbe3e6');
centered('10L: 0.82 L', 949, 883.5, 5, '#a04a55');

// drawing toolbar
box(0, 403, 178.5, 19.5, '#fff', 'box-shadow:0 1px 4px rgba(0,0,0,.18);border-radius:0 3px 3px 0;');
overlay.insertAdjacentHTML('beforeend',
  '<svg style="position:absolute;left:0;top:403px" width="179" height="20" fill="none" stroke="#444" stroke-width=".8">' +
  '<path d="M0 13 L4 8 L6 9.5 L2 14.5" stroke="#333"/>' +
  '<path d="M16 6 H25 M20.5 6 V14" stroke="#333"/>' +
  '<path d="M34 9.5 H44 M68 9.5 H79"/>' +
  '<circle cx="93" cy="9.5" r="4"/><circle cx="93" cy="9.5" r="1.2"/>' +
  '<circle cx="111.5" cy="9" r="3.6"/><path d="M111.5 7 V9 L113 10 M113.5 12.5 h4 M115.5 10.5 v4"/>' +
  '<rect x="128" y="9" width="6.5" height="5"/><path d="M129.5 9 V7 a2 2 0 0 1 3.5 -1"/>' +
  '<path d="M146 6 H155 M147 6 L148 14.5 H153 L154 6 M149 6 V4.5 H152 V6"/>' +
  '<circle cx="166" cy="10" r="1"/><circle cx="169" cy="10" r="1"/><circle cx="172" cy="10" r="1"/>' +
  '</svg>');
box(0, 418, 7, 1.4, '#2a0a7a');
box(15, 418, 11, 1.6, '#000');
text('1px', 47.5, 408.5, 7.2, '#333');
</script>
</body>
</html>
